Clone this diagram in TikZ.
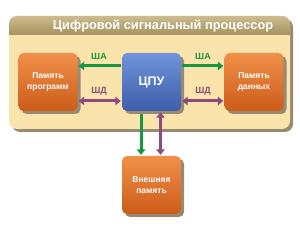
\documentclass[tikz,border=0pt]{standalone}
\usepackage{fontspec}
\setmainfont{Liberation Sans}
\usetikzlibrary{arrows.meta,shadows}
\definecolor{orTop}{HTML}{F0904A}
\definecolor{orBot}{HTML}{CC5C18}
\definecolor{blTop}{HTML}{6F94DA}
\definecolor{blBot}{HTML}{3E5CAA}
\definecolor{grn}{HTML}{16983C}
\definecolor{pur}{HTML}{8D4A7E}
\definecolor{body}{HTML}{FBE4AC}
\definecolor{hdrTop}{HTML}{CDBB8E}
\definecolor{hdrBot}{HTML}{A69261}
\definecolor{shad}{HTML}{958B72}
\begin{document}
\begin{tikzpicture}[x=1pt,y=-1pt,
  box/.style={rounded corners=5pt, minimum width=59pt, minimum height=58pt, inner sep=0pt,
    align=center, text=white, font=\bfseries\fontsize{8.5}{11}\selectfont,
    drop shadow={shadow xshift=3pt, shadow yshift=-3pt, fill=shad, opacity=1}},
  orbox/.style={box, top color=orTop, bottom color=orBot},
  blbox/.style={box, top color=blTop, bottom color=blBot, font=\bfseries\fontsize{12.5}{14}\selectfont},
  bus/.style={line width=3pt, -{Triangle[length=5.5pt,width=8.5pt]}, shorten >=1pt, shorten <=1pt},
  dbus/.style={line width=3pt, {Triangle[length=5.5pt,width=8.5pt]}-{Triangle[length=5.5pt,width=8.5pt]}, shorten >=1pt, shorten <=1pt},
  lbl/.style={font=\bfseries\fontsize{9}{11}\selectfont, inner sep=0pt}
]
\useasboundingbox (0,0) rectangle (300,229);
% panel
\fill[shad, rounded corners=8pt] (12,19) rectangle (293,132);
\fill[body, rounded corners=8pt] (9,16) rectangle (290,129);
\begin{scope}
  \clip[rounded corners=8pt] (9,16) rectangle (290,129);
  \shade[top color=hdrTop, bottom color=hdrBot] (9,16) rectangle (290,35);
\end{scope}
\node[text=white, font=\bfseries\fontsize{12.8}{15}\selectfont, inner sep=0pt] (title) at (163,26) {Цифровой сигнальный процессор};
% boxes
\node[orbox] (prog) at (48,82) {Память\\программ};
\node[blbox] (cpu) at (151.5,82) {ЦПУ};
\node[orbox] (data) at (254,82) {Память\\данных};
\node[orbox] (ext) at (151.5,185) {Внешняя\\память};
% buses
\draw[bus, grn] ([yshift=16pt]cpu.west) -- ([yshift=16pt]prog.east);
\draw[dbus, pur] ([yshift=-19pt]cpu.west) -- ([yshift=-19pt]prog.east);
\draw[bus, grn] ([yshift=16pt]cpu.east) -- ([yshift=16pt]data.west);
\draw[dbus, pur] ([yshift=-19pt]cpu.east) -- ([yshift=-19pt]data.west);
\draw[bus, grn, shorten <=3pt] ([xshift=-10.5pt]cpu.south) -- ([xshift=-10.5pt]ext.north);
\draw[dbus, pur] ([xshift=9pt]cpu.south) -- ([xshift=9pt]ext.north);
% labels
\node[lbl, text=grn] (la1) at (99,56) {ША};
\node[lbl, text=pur] (ld1) at (99,91) {ШД};
\node[lbl, text=grn] (la2) at (203,56) {ША};
\node[lbl, text=pur] (ld2) at (203,91) {ШД};
\end{tikzpicture}
\end{document}
